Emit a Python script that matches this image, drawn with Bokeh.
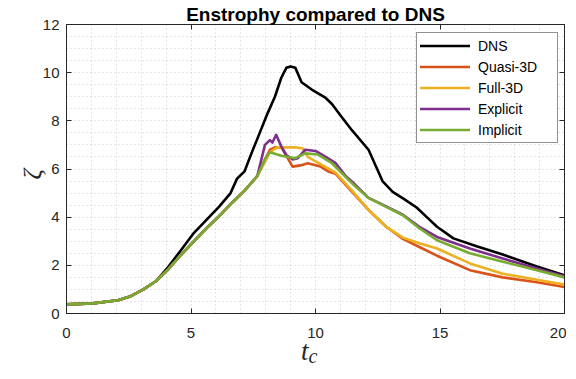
import math
from bokeh.plotting import figure
from bokeh.layouts import column
from bokeh.models import LinearAxis, Range1d, FixedTicker, Legend, LegendItem, Div
from bokeh.embed import file_html
from bokeh.resources import INLINE

# ---- data ----
t_dns = [0, 1.06, 2.07, 2.58, 3.09, 3.6, 4.1, 4.61, 5.12, 5.63, 6.14, 6.59, 6.85, 7.15, 7.41,
         7.76, 8.07, 8.37, 8.63, 8.83, 9.0, 9.19, 9.44, 9.85, 10.41, 10.66, 11.02, 11.47,
         12.13, 12.69, 13.1, 13.56, 14.06, 14.47, 14.88, 15.54, 16.5, 17.52, 18.89, 19.96, 20]
dns = [0.38, 0.42, 0.55, 0.72, 1.0, 1.35, 1.95, 2.65, 3.35, 3.9, 4.45, 5.0, 5.6, 5.9, 6.6,
       7.5, 8.3, 9.0, 9.8, 10.2, 10.26, 10.2, 9.6, 9.3, 8.95, 8.7, 8.2, 7.6, 6.8, 5.5, 5.05,
       4.75, 4.4, 4.0, 3.6, 3.12, 2.78, 2.45, 1.95, 1.6, 1.5]

t_early = [0, 1.06, 2.07, 2.58, 3.09, 3.6, 4.1, 4.61, 5.12, 5.63, 6.14, 6.65, 7.15, 7.66]
z_early = [0.38, 0.42, 0.55, 0.72, 1.0, 1.35, 1.85, 2.45, 3.0, 3.55, 4.05, 4.6, 5.1, 5.7]

t_quasi = t_early + [7.97, 8.17, 8.37, 8.63, 8.88, 9.08, 9.39, 9.69, 10.2, 10.51, 10.81,
                     11.47, 12.13, 12.84, 13.51, 14.17, 14.88, 16.2, 17.52, 18.89, 20]
quasi = z_early + [6.4, 6.8, 6.9, 6.9, 6.45, 6.1, 6.15, 6.24, 6.1, 5.9, 5.8, 5.05, 4.3,
                   3.6, 3.1, 2.76, 2.4, 1.8, 1.5, 1.3, 1.1]

t_full = t_early + [7.97, 8.17, 8.47, 8.88, 9.19, 9.49, 9.69, 10.2, 10.81, 11.47, 12.13,
                    12.84, 13.51, 14.17, 14.88, 16.2, 17.52, 18.89, 20]
full = z_early + [6.3, 6.7, 6.9, 6.9, 6.9, 6.85, 6.5, 6.2, 5.85, 5.1, 4.3, 3.6, 3.15,
                  2.92, 2.7, 2.08, 1.65, 1.4, 1.2]

t_expl = t_early + [7.97, 8.17, 8.27, 8.42, 8.63, 8.83, 9.08, 9.29, 9.59, 10.0, 10.41, 10.81,
                    11.22, 11.47, 12.13, 12.84, 13.51, 14.17, 14.88, 16.2, 17.52, 18.89, 20]
expl = z_early + [7.0, 7.2, 7.1, 7.42, 6.93, 6.58, 6.4, 6.45, 6.8, 6.75, 6.5, 6.24, 5.7,
                  5.47, 4.8, 4.45, 4.1, 3.6, 3.18, 2.7, 2.28, 1.87, 1.55]

t_impl = t_early + [7.97, 8.17, 8.63, 9.19, 9.59, 10.1, 10.66, 11.47, 12.13, 12.84, 13.51,
                    14.17, 14.88, 16.2, 17.52, 18.89, 20]
impl = z_early + [6.4, 6.7, 6.55, 6.45, 6.65, 6.6, 6.24, 5.4, 4.8, 4.43, 4.08, 3.54,
                  3.04, 2.5, 2.15, 1.8, 1.5]

names = ["DNS", "Quasi-3D", "Full-3D", "Explicit", "Implicit"]
colors = ["#000000", "#D95319", "#EDB120", "#7E2F8E", "#77AC30"]
x_ticks = [0, 5, 10, 15, 20]
y_ticks = [0, 2, 4, 6, 8, 10, 12]

FONT = "Liberation Sans"
SERIF = "Liberation Serif"

p = figure(width=566, height=344, output_backend="svg", toolbar_location=None,
           x_range=Range1d(0, 20), y_range=Range1d(0, 12),
           min_border_left=64, min_border_right=2, min_border_top=24, min_border_bottom=31,
           x_axis_location=None, y_axis_location=None, margin=0)
p.background_fill_color = "white"
p.border_fill_color = "white"
p.outline_line_color = "#262626"
p.outline_line_width = 1

p.title.text = "Enstrophy compared to DNS"
p.title.align = "center"
p.title.standoff = 0
p.title.text_font = FONT
p.title.text_font_size = "19px"
p.title.text_font_style = "bold"
p.title.text_color = "#000000"

def style_axis(ax, ticks, show_labels):
    ax.ticker = FixedTicker(ticks=ticks)
    ax.major_tick_in = 5
    ax.major_tick_out = 0
    ax.minor_tick_in = 0
    ax.minor_tick_out = 0
    ax.axis_line_color = "#262626"
    ax.major_tick_line_color = "#262626"
    ax.major_label_text_font = FONT
    ax.major_label_text_font_size = "15px"
    ax.major_label_text_color = "#262626"
    if not show_labels:
        ax.major_label_overrides = {t: "" for t in ticks}
        ax.major_label_standoff = 0

xb = LinearAxis(); style_axis(xb, x_ticks, True); xb.major_label_standoff = 14
yl = LinearAxis(); style_axis(yl, y_ticks, True); yl.major_label_standoff = 7
xt = LinearAxis(); style_axis(xt, x_ticks, False)
yr = LinearAxis(); style_axis(yr, y_ticks, False)
yl.axis_label = "ζ"
yl.axis_label_text_font = SERIF
yl.axis_label_text_font_style = "italic"
yl.axis_label_text_font_size = "26px"
yl.axis_label_text_color = "#262626"
yl.axis_label_standoff = 7
if "axis_label_orientation" in yl.properties():
    yl.axis_label_orientation = math.pi / 2
p.add_layout(xb, "below")
p.add_layout(yl, "left")
p.add_layout(xt, "above")
p.add_layout(yr, "right")

# dotted grid
p.xgrid.ticker = FixedTicker(ticks=list(range(0, 21)))
p.ygrid.ticker = FixedTicker(ticks=[i * 0.5 for i in range(0, 25)])
for g in (p.xgrid, p.ygrid):
    g.grid_line_color = "#b8b8b8"
    g.grid_line_dash = "1 3"
    g.grid_line_alpha = 0.7
    g.grid_line_width = 1

series = [(t_dns, dns), (t_quasi, quasi), (t_full, full), (t_expl, expl), (t_impl, impl)]
renderers = []
for (tx, zy), c in zip(series, colors):
    r = p.line(tx, zy, line_color=c, line_width=2.6, line_join="round", line_cap="round")
    renderers.append(r)

legend = Legend(items=[LegendItem(label=n, renderers=[r]) for n, r in zip(names, renderers)],
                location=(350, 170))
legend.label_text_font = FONT
legend.label_text_font_size = "14px"
legend.label_text_color = "#000000"
legend.glyph_width = 50
legend.glyph_height = 19
legend.label_height = 19
legend.label_width = 76
legend.label_standoff = 8
legend.spacing = 2
legend.padding = 3
legend.margin = 0
legend.border_line_color = "#262626"
legend.border_line_width = 1
legend.background_fill_alpha = 1
p.add_layout(legend)

xlabel = Div(
    text=('<div style="position:relative;top:-6px;padding-left:301px;white-space:nowrap;'
          'line-height:26px;color:#262626;">'
          '<span style="font-family:\'Liberation Serif\';font-style:italic;font-size:27px;">t</span>'
          '<span style="font-family:\'Liberation Serif\';font-style:italic;font-size:20px;'
          'position:relative;top:3px;">c</span></div>'),
    width=566, height=35, margin=0)

layout = column(p, xlabel, spacing=0, margin=0)
open("out.html", "w").write(file_html(layout, INLINE))
